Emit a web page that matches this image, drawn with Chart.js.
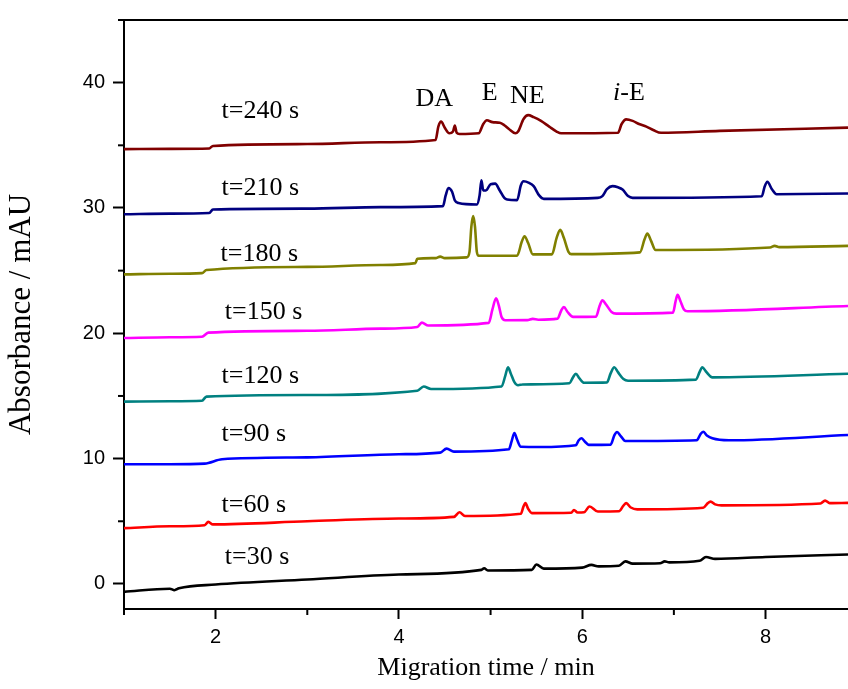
<!DOCTYPE html>
<html>
<head>
<meta charset="utf-8">
<script src="https://cdn.jsdelivr.net/npm/chart.js@4"></script>
<style>
html,body{margin:0;padding:0;background:#fff;}
#wrap{width:848px;height:689px;position:relative;}
</style>
</head>
<body>
<div id="wrap"><canvas id="c" width="848" height="689"></canvas></div>
<script>
// ---- data (x: migration time / min, y: absorbance / mAU)
const t30X = [1.0, 1.5, 1.55, 1.6, 2.0, 3.0, 4.0, 4.9, 4.93, 4.97, 5.45, 5.5, 5.58, 6.0, 6.1, 6.18, 6.4, 6.47, 6.55, 6.85, 6.9, 6.95, 7.28, 7.35, 7.45, 8.0, 8.9];
const t30Y = [-0.63, -0.38, -0.5, -0.35, -0.05, 0.35, 0.75, 1.12, 1.25, 1.07, 1.12, 1.55, 1.22, 1.3, 1.52, 1.4, 1.45, 1.8, 1.62, 1.65, 1.8, 1.72, 1.85, 2.15, 2.0, 2.15, 2.35];

const t60X = [1.0, 1.5, 1.88, 1.92, 1.97, 3.0, 4.0, 4.6, 4.66, 4.72, 5.33, 5.36, 5.38, 5.41, 5.45, 5.88, 5.91, 5.95, 6.02, 6.08, 6.17, 6.4, 6.45, 6.48, 6.53, 6.6, 7.32, 7.37, 7.4, 7.45, 7.52, 8.6, 8.65, 8.7, 8.9];
const t60Y = [4.45, 4.6, 4.68, 4.95, 4.75, 5.0, 5.22, 5.35, 5.72, 5.42, 5.6, 6.2, 6.45, 6.0, 5.65, 5.68, 5.9, 5.7, 5.72, 6.18, 5.78, 5.8, 6.25, 6.45, 6.1, 5.95, 6.08, 6.45, 6.57, 6.35, 6.27, 6.42, 6.65, 6.45, 6.47];

const t90X = [1.0, 1.5, 1.88, 2.07, 3.0, 4.0, 4.45, 4.52, 4.6, 5.2, 5.23, 5.26, 5.29, 5.33, 5.54, 5.93, 5.96, 5.99, 6.03, 6.07, 6.31, 6.35, 6.38, 6.42, 6.47, 7.25, 7.29, 7.32, 7.36, 7.42, 7.6, 8.9];
const t90Y = [9.55, 9.55, 9.6, 9.95, 10.1, 10.35, 10.48, 10.8, 10.56, 10.75, 11.4, 12.05, 11.5, 10.95, 10.93, 11.07, 11.45, 11.62, 11.35, 11.1, 11.12, 11.85, 12.12, 11.8, 11.4, 11.46, 11.95, 12.14, 11.85, 11.62, 11.46, 11.88];

const t120X = [1.0, 1.5, 1.85, 1.9, 3.0, 4.2, 4.27, 4.35, 5.12, 5.16, 5.19, 5.22, 5.26, 5.3, 5.35, 5.86, 5.9, 5.93, 5.97, 6.02, 6.27, 6.31, 6.35, 6.39, 6.45, 6.5, 7.24, 7.28, 7.31, 7.35, 7.42, 8.9];
const t120Y = [14.55, 14.58, 14.62, 14.95, 15.08, 15.42, 15.76, 15.55, 15.76, 16.6, 17.29, 16.8, 16.1, 15.85, 15.92, 16.02, 16.5, 16.77, 16.4, 16.05, 16.08, 16.8, 17.29, 16.9, 16.35, 16.21, 16.3, 16.9, 17.29, 16.95, 16.48, 16.77];

const t150X = [1.0, 1.5, 1.85, 1.92, 3.0, 3.8, 4.2, 4.25, 4.32, 4.98, 5.02, 5.06, 5.09, 5.12, 5.16, 5.4, 5.46, 5.52, 5.73, 5.77, 5.8, 5.84, 5.9, 6.15, 6.19, 6.22, 6.26, 6.32, 6.37, 6.99, 7.02, 7.04, 7.07, 7.11, 7.15, 8.9];
const t150Y = [19.62, 19.68, 19.72, 20.05, 20.2, 20.37, 20.5, 20.85, 20.62, 20.83, 21.9, 22.8, 22.2, 21.3, 21.04, 21.05, 21.15, 21.08, 21.17, 21.8, 22.1, 21.7, 21.31, 21.33, 22.2, 22.63, 22.3, 21.7, 21.57, 21.65, 22.6, 23.07, 22.6, 21.9, 21.76, 22.18];

const t180X = [1.0, 1.5, 1.85, 1.9, 3.0, 3.8, 4.18, 4.2, 4.4, 4.45, 4.5, 4.74, 4.77, 4.79, 4.81, 4.83, 4.85, 4.87, 5.29, 5.34, 5.37, 5.41, 5.46, 5.67, 5.72, 5.76, 5.8, 5.85, 5.88, 6.63, 6.68, 6.71, 6.75, 6.8, 8.05, 8.1, 8.15, 8.9];
const t180Y = [24.7, 24.75, 24.8, 25.05, 25.3, 25.45, 25.6, 25.95, 26.0, 26.12, 26.0, 26.06, 26.5, 28.5, 29.35, 28.5, 26.5, 26.19, 26.2, 27.3, 27.75, 27.2, 26.3, 26.3, 27.6, 28.25, 27.6, 26.5, 26.32, 26.46, 27.5, 27.96, 27.4, 26.65, 26.85, 26.98, 26.88, 26.98];

const t210X = [1.0, 1.5, 1.93, 1.97, 3.0, 3.8, 4.48, 4.51, 4.54, 4.58, 4.61, 4.65, 4.85, 4.88, 4.9, 4.92, 4.95, 5.0, 5.05, 5.1, 5.15, 5.18, 5.29, 5.33, 5.36, 5.42, 5.47, 5.53, 5.58, 6.17, 6.22, 6.27, 6.33, 6.39, 6.44, 6.5, 6.55, 7.96, 7.99, 8.02, 8.07, 8.12, 8.9];
const t210Y = [29.5, 29.55, 29.6, 29.88, 29.95, 30.07, 30.15, 31.0, 31.6, 31.3, 30.6, 30.4, 30.28, 31.0, 32.21, 31.4, 31.4, 31.9, 31.94, 31.4, 30.8, 30.68, 30.63, 31.8, 32.13, 32.0, 31.74, 31.0, 30.73, 30.81, 30.95, 31.5, 31.74, 31.65, 31.47, 30.95, 30.81, 30.94, 31.7, 32.08, 31.5, 31.1, 31.15];

const t240X = [1.0, 1.5, 1.93, 1.97, 3.0, 3.8, 4.4, 4.43, 4.46, 4.5, 4.55, 4.59, 4.61, 4.63, 4.66, 4.87, 4.92, 4.96, 5.02, 5.1, 5.15, 5.2, 5.27, 5.3, 5.36, 5.41, 5.47, 5.55, 5.64, 5.72, 5.77, 6.39, 6.43, 6.48, 6.55, 6.62, 6.7, 6.78, 6.86, 7.5, 8.9];
const t240Y = [34.7, 34.72, 34.75, 34.95, 35.1, 35.25, 35.43, 36.5, 36.89, 36.4, 35.96, 36.1, 36.57, 36.0, 35.9, 35.96, 36.7, 37.0, 36.85, 36.8, 36.6, 36.3, 35.96, 36.1, 37.1, 37.41, 37.25, 36.95, 36.49, 36.1, 35.96, 36.0, 36.7, 37.07, 36.95, 36.7, 36.49, 36.2, 36.0, 36.15, 36.41];

const seriesNames = ['t=30 s', 't=60 s', 't=90 s', 't=120 s', 't=150 s', 't=180 s', 't=210 s', 't=240 s'];
const seriesColors = ['#000000', '#ff0000', '#0000ff', '#008080', '#ff00ff', '#808000', '#000080', '#800000'];
const seriesX = [t30X, t60X, t90X, t120X, t150X, t180X, t210X, t240X];
const seriesY = [t30Y, t60Y, t90Y, t120Y, t150Y, t180Y, t210Y, t240Y];

// labels of the traces (anchor in data units)
const traceLabelX = [2.1, 2.065, 2.065, 2.065, 2.1, 2.054, 2.065, 2.065];
const traceLabelY = [2.14, 6.26, 11.96, 16.55, 21.7, 26.3, 31.6, 37.7];

// peak names
const peakNames = ['DA', 'E', 'NE', 'i-E'];
const peakX = [4.386, 4.99, 5.4, 6.51];
const peakY = [38.65, 39.17, 38.93, 39.17];

const xTitle = 'Migration time / min';
const yTitle = 'Absorbance / mAU';

const datasets = seriesNames.map((name, i) => ({
  label: name,
  data: seriesX[i].map((x, k) => ({x: x, y: seriesY[i][k]})),
  borderColor: seriesColors[i],
  backgroundColor: seriesColors[i],
  borderWidth: 2.6,
  pointRadius: 0,
  cubicInterpolationMode: 'monotone',
  fill: false
}));

const SERIF = '"Liberation Serif", "Times New Roman", serif';
const SANS = '"Liberation Sans", Arial, sans-serif';

const annotPlugin = {
  id: 'annot',
  afterDraw(chart) {
    const ctx = chart.ctx;
    const xs = chart.scales.x, ys = chart.scales.y;
    const area = chart.chartArea;
    ctx.save();
    // top frame line
    ctx.strokeStyle = '#000';
    ctx.lineWidth = 2;
    ctx.beginPath();
    ctx.moveTo(area.left - 1, area.top);
    ctx.lineTo(area.right, area.top);
    ctx.stroke();
    // minor ticks (shorter)
    ys.ticks.forEach(t => {
      if (t.value % 10 !== 0) {
        const py = ys.getPixelForValue(t.value);
        ctx.beginPath(); ctx.moveTo(area.left - 6, py); ctx.lineTo(area.left, py); ctx.stroke();
      }
    });
    xs.ticks.forEach(t => {
      if (t.value % 2 !== 0) {
        const px = xs.getPixelForValue(t.value);
        ctx.beginPath(); ctx.moveTo(px, area.bottom); ctx.lineTo(px, area.bottom + 6); ctx.stroke();
      }
    });
    // trace labels
    ctx.fillStyle = '#000';
    ctx.font = '26px ' + SERIF;
    ctx.textAlign = 'left';
    ctx.textBaseline = 'middle';
    seriesNames.forEach((n, i) => {
      ctx.fillText(n, xs.getPixelForValue(traceLabelX[i]), ys.getPixelForValue(traceLabelY[i]));
    });
    // peak names
    peakNames.forEach((n, i) => {
      const cx = xs.getPixelForValue(peakX[i]);
      const cy = ys.getPixelForValue(peakY[i]);
      if (n.startsWith('i-')) {
        ctx.font = 'italic 26px ' + SERIF;
        const w1 = ctx.measureText('i').width;
        ctx.font = '26px ' + SERIF;
        const rest = n.slice(1);
        const w2 = ctx.measureText(rest).width;
        const start = cx - (w1 + w2) / 2;
        ctx.textAlign = 'left';
        ctx.font = 'italic 26px ' + SERIF;
        ctx.fillText('i', start, cy);
        ctx.font = '26px ' + SERIF;
        ctx.fillText(rest, start + w1, cy);
      } else {
        ctx.font = '26px ' + SERIF;
        ctx.textAlign = 'center';
        ctx.fillText(n, cx, cy);
      }
    });
    ctx.restore();
  }
};

new Chart(document.getElementById('c'), {
  type: 'line',
  data: { datasets: datasets },
  options: {
    responsive: false,
    animation: false,
    layout: { padding: { top: 15, right: 0, bottom: 0, left: 0 } },
    plugins: { legend: { display: false }, tooltip: { enabled: false } },
    scales: {
      x: {
        type: 'linear',
        min: 1,
        max: 8.9,
        afterFit(scale) { scale.height = 80; },
        border: { display: true, color: '#000', width: 2 },
        grid: {
          display: true, drawOnChartArea: false, drawTicks: true, tickLength: 10, tickWidth: 2,
          tickColor: (c) => (c.tick && c.tick.value % 2 === 0) ? '#000' : 'rgba(0,0,0,0)'
        },
        ticks: {
          stepSize: 1,
          includeBounds: false,
          autoSkip: false,
          maxRotation: 0,
          padding: 6,
          color: '#000',
          font: { family: SANS, size: 20 },
          callback: (v) => (v % 2 === 0 ? String(v) : '')
        },
        title: {
          display: true, text: xTitle, color: '#000',
          font: { family: SERIF, size: 26 },
          padding: { top: 0, bottom: 5 }
        }
      },
      y: {
        type: 'linear',
        min: -2,
        max: 45,
        afterFit(scale) { scale.width = 124; },
        border: { display: true, color: '#000', width: 2 },
        grid: {
          display: true, drawOnChartArea: false, drawTicks: true, tickLength: 11, tickWidth: 2,
          tickColor: (c) => (c.tick && c.tick.value % 10 === 0) ? '#000' : 'rgba(0,0,0,0)'
        },
        ticks: {
          stepSize: 5,
          includeBounds: false,
          autoSkip: false,
          padding: 8,
          color: '#000',
          font: { family: SANS, size: 20 },
          callback: (v) => (v % 10 === 0 ? String(v) : '')
        },
        title: {
          display: true, text: yTitle, color: '#000',
          font: { family: SERIF, size: 31 },
          padding: { top: 3, bottom: 0 }
        }
      }
    }
  },
  plugins: [annotPlugin]
});
</script>
</body>
</html>
